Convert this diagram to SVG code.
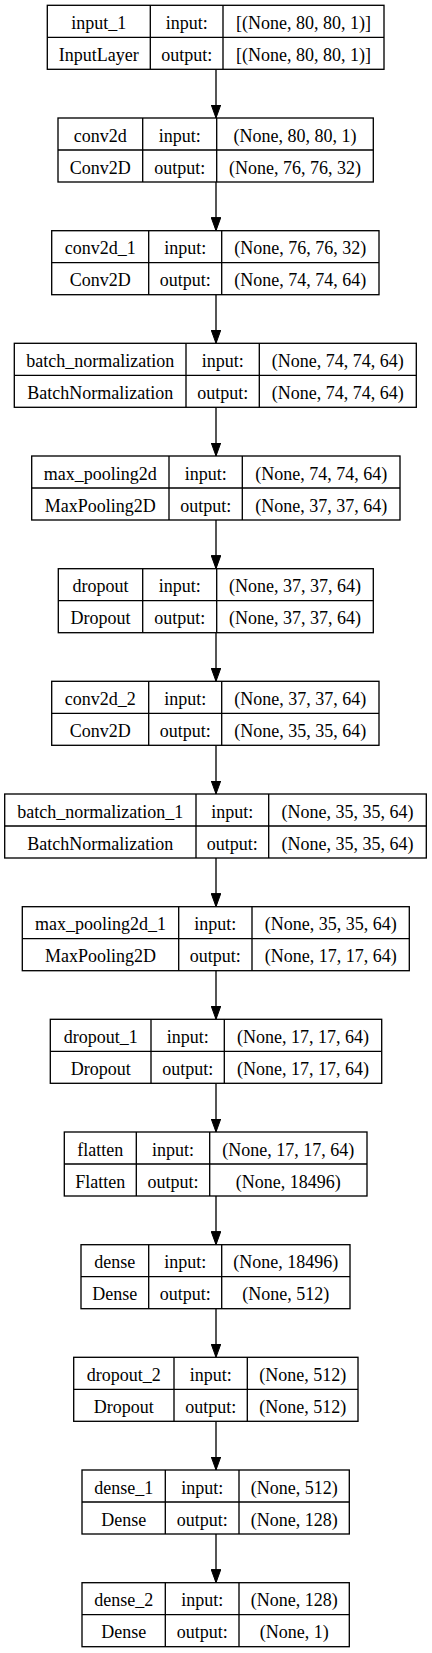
<svg xmlns="http://www.w3.org/2000/svg" width="432" height="1653" viewBox="0 0 432 1653">
<style>
.b{fill:#fff;stroke:#000;stroke-width:1.33}
.l{stroke:#000;stroke-width:1.33;fill:none}
.e{stroke:#000;stroke-width:1.33;fill:none;marker-end:url(#ah)}
</style>
<defs>
<marker id="ah" markerUnits="userSpaceOnUse" viewBox="0 0 13.3 9.6" refX="13.3" refY="4.8" markerWidth="13.3" markerHeight="9.6" orient="auto">
<path d="M0,0 L13.3,4.8 L0,9.6 Z" fill="#000" stroke="#000" stroke-width="1"/>
</marker>
</defs>
<rect width="432" height="1653" fill="#fff"/>
<g id="connectors">
<line class="e" x1="216" y1="69.3" x2="216" y2="118"/>
<line class="e" x1="216" y1="182" x2="216" y2="230.7"/>
<line class="e" x1="216" y1="294.7" x2="216" y2="343.3"/>
<line class="e" x1="216" y1="407.3" x2="216" y2="456"/>
<line class="e" x1="216" y1="520" x2="216" y2="568.7"/>
<line class="e" x1="216" y1="632.7" x2="216" y2="681.3"/>
<line class="e" x1="216" y1="745.3" x2="216" y2="794"/>
<line class="e" x1="216" y1="858" x2="216" y2="906.7"/>
<line class="e" x1="216" y1="970.7" x2="216" y2="1019.3"/>
<line class="e" x1="216" y1="1083.3" x2="216" y2="1132"/>
<line class="e" x1="216" y1="1196" x2="216" y2="1244.7"/>
<line class="e" x1="216" y1="1308.7" x2="216" y2="1357.3"/>
<line class="e" x1="216" y1="1421.3" x2="216" y2="1470"/>
<line class="e" x1="216" y1="1534" x2="216" y2="1582.7"/>
</g>
<g font-family="Liberation Serif, Times New Roman, Times, serif" font-size="18" text-anchor="middle" fill="#000">
<g id="input_1">
<rect class="b" x="47.3" y="5.3" width="336.7" height="64"/>
<path class="l" d="M47.3,37.3H384M150.3,5.3V69.3M223,5.3V69.3"/>
<text x="98.8" y="28.8">input_1</text><text x="186.7" y="28.8">input:</text><text x="303.5" y="28.8">[(None, 80, 80, 1)]</text>
<text x="98.8" y="60.8">InputLayer</text><text x="186.7" y="60.8">output:</text><text x="303.5" y="60.8">[(None, 80, 80, 1)]</text>
</g>
<g id="conv2d">
<rect class="b" x="58" y="118" width="315.3" height="64"/>
<path class="l" d="M58,150H373.3M142.7,118V182M216.7,118V182"/>
<text x="100.3" y="141.5">conv2d</text><text x="179.7" y="141.5">input:</text><text x="295" y="141.5">(None, 80, 80, 1)</text>
<text x="100.3" y="173.5">Conv2D</text><text x="179.7" y="173.5">output:</text><text x="295" y="173.5">(None, 76, 76, 32)</text>
</g>
<g id="conv2d_1">
<rect class="b" x="51.7" y="230.7" width="327.3" height="64"/>
<path class="l" d="M51.7,262.7H379M148.7,230.7V294.7M221.7,230.7V294.7"/>
<text x="100.2" y="254.2">conv2d_1</text><text x="185.2" y="254.2">input:</text><text x="300.3" y="254.2">(None, 76, 76, 32)</text>
<text x="100.2" y="286.2">Conv2D</text><text x="185.2" y="286.2">output:</text><text x="300.3" y="286.2">(None, 74, 74, 64)</text>
</g>
<g id="batch_normalization">
<rect class="b" x="14.3" y="343.3" width="402" height="64"/>
<path class="l" d="M14.3,375.3H416.3M186,343.3V407.3M259.3,343.3V407.3"/>
<text x="100.2" y="366.8">batch_normalization</text><text x="222.7" y="366.8">input:</text><text x="337.8" y="366.8">(None, 74, 74, 64)</text>
<text x="100.2" y="398.8">BatchNormalization</text><text x="222.7" y="398.8">output:</text><text x="337.8" y="398.8">(None, 74, 74, 64)</text>
</g>
<g id="max_pooling2d">
<rect class="b" x="31.7" y="456" width="368.3" height="64"/>
<path class="l" d="M31.7,488H400M169,456V520M242.3,456V520"/>
<text x="100.3" y="479.5">max_pooling2d</text><text x="205.7" y="479.5">input:</text><text x="321.2" y="479.5">(None, 74, 74, 64)</text>
<text x="100.3" y="511.5">MaxPooling2D</text><text x="205.7" y="511.5">output:</text><text x="321.2" y="511.5">(None, 37, 37, 64)</text>
</g>
<g id="dropout">
<rect class="b" x="58.3" y="568.7" width="315" height="64"/>
<path class="l" d="M58.3,600.7H373.3M142.7,568.7V632.7M216.7,568.7V632.7"/>
<text x="100.5" y="592.2">dropout</text><text x="179.7" y="592.2">input:</text><text x="295" y="592.2">(None, 37, 37, 64)</text>
<text x="100.5" y="624.2">Dropout</text><text x="179.7" y="624.2">output:</text><text x="295" y="624.2">(None, 37, 37, 64)</text>
</g>
<g id="conv2d_2">
<rect class="b" x="51.7" y="681.3" width="327.3" height="64"/>
<path class="l" d="M51.7,713.3H379M148.7,681.3V745.3M221.7,681.3V745.3"/>
<text x="100.2" y="704.8">conv2d_2</text><text x="185.2" y="704.8">input:</text><text x="300.3" y="704.8">(None, 37, 37, 64)</text>
<text x="100.2" y="736.8">Conv2D</text><text x="185.2" y="736.8">output:</text><text x="300.3" y="736.8">(None, 35, 35, 64)</text>
</g>
<g id="batch_normalization_1">
<rect class="b" x="4.7" y="794" width="421.6" height="64"/>
<path class="l" d="M4.7,826H426.3M196,794V858M268.7,794V858"/>
<text x="100.3" y="817.5">batch_normalization_1</text><text x="232.3" y="817.5">input:</text><text x="347.5" y="817.5">(None, 35, 35, 64)</text>
<text x="100.3" y="849.5">BatchNormalization</text><text x="232.3" y="849.5">output:</text><text x="347.5" y="849.5">(None, 35, 35, 64)</text>
</g>
<g id="max_pooling2d_1">
<rect class="b" x="22.3" y="906.7" width="387" height="64"/>
<path class="l" d="M22.3,938.7H409.3M178.7,906.7V970.7M252,906.7V970.7"/>
<text x="100.5" y="930.2">max_pooling2d_1</text><text x="215.3" y="930.2">input:</text><text x="330.7" y="930.2">(None, 35, 35, 64)</text>
<text x="100.5" y="962.2">MaxPooling2D</text><text x="215.3" y="962.2">output:</text><text x="330.7" y="962.2">(None, 17, 17, 64)</text>
</g>
<g id="dropout_1">
<rect class="b" x="50.3" y="1019.3" width="331.4" height="64"/>
<path class="l" d="M50.3,1051.3H381.7M151,1019.3V1083.3M224.3,1019.3V1083.3"/>
<text x="100.7" y="1042.8">dropout_1</text><text x="187.7" y="1042.8">input:</text><text x="303" y="1042.8">(None, 17, 17, 64)</text>
<text x="100.7" y="1074.8">Dropout</text><text x="187.7" y="1074.8">output:</text><text x="303" y="1074.8">(None, 17, 17, 64)</text>
</g>
<g id="flatten">
<rect class="b" x="64.3" y="1132" width="302.7" height="64"/>
<path class="l" d="M64.3,1164H367M136.3,1132V1196M209.7,1132V1196"/>
<text x="100.3" y="1155.5">flatten</text><text x="173" y="1155.5">input:</text><text x="288.3" y="1155.5">(None, 17, 17, 64)</text>
<text x="100.3" y="1187.5">Flatten</text><text x="173" y="1187.5">output:</text><text x="288.3" y="1187.5">(None, 18496)</text>
</g>
<g id="dense">
<rect class="b" x="81" y="1244.7" width="269" height="64"/>
<path class="l" d="M81,1276.7H350M148.7,1244.7V1308.7M221.7,1244.7V1308.7"/>
<text x="114.8" y="1268.2">dense</text><text x="185.2" y="1268.2">input:</text><text x="285.8" y="1268.2">(None, 18496)</text>
<text x="114.8" y="1300.2">Dense</text><text x="185.2" y="1300.2">output:</text><text x="285.8" y="1300.2">(None, 512)</text>
</g>
<g id="dropout_2">
<rect class="b" x="73.7" y="1357.3" width="284.3" height="64"/>
<path class="l" d="M73.7,1389.3H358M174,1357.3V1421.3M247.3,1357.3V1421.3"/>
<text x="123.8" y="1380.8">dropout_2</text><text x="210.7" y="1380.8">input:</text><text x="302.7" y="1380.8">(None, 512)</text>
<text x="123.8" y="1412.8">Dropout</text><text x="210.7" y="1412.8">output:</text><text x="302.7" y="1412.8">(None, 512)</text>
</g>
<g id="dense_1">
<rect class="b" x="82" y="1470" width="267.3" height="64"/>
<path class="l" d="M82,1502H349.3M165.3,1470V1534M239,1470V1534"/>
<text x="123.7" y="1493.5">dense_1</text><text x="202.2" y="1493.5">input:</text><text x="294.2" y="1493.5">(None, 512)</text>
<text x="123.7" y="1525.5">Dense</text><text x="202.2" y="1525.5">output:</text><text x="294.2" y="1525.5">(None, 128)</text>
</g>
<g id="dense_2">
<rect class="b" x="82" y="1582.7" width="267.3" height="64"/>
<path class="l" d="M82,1614.7H349.3M165.3,1582.7V1646.7M239,1582.7V1646.7"/>
<text x="123.7" y="1606.2">dense_2</text><text x="202.2" y="1606.2">input:</text><text x="294.2" y="1606.2">(None, 128)</text>
<text x="123.7" y="1638.2">Dense</text><text x="202.2" y="1638.2">output:</text><text x="294.2" y="1638.2">(None, 1)</text>
</g>
</g>
</svg>
